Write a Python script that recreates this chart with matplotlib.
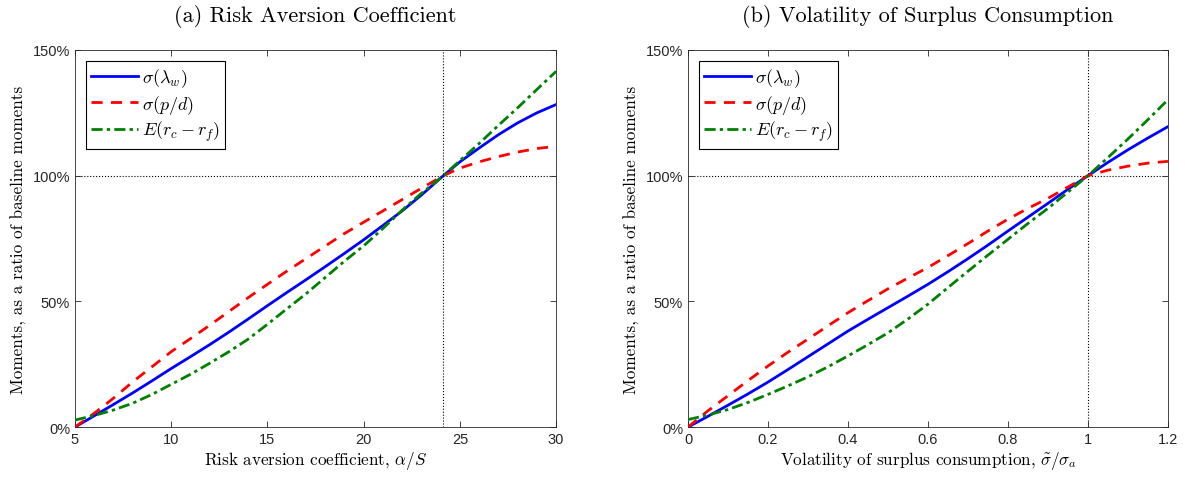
import numpy as np
import matplotlib
matplotlib.use('Agg')
import matplotlib.pyplot as plt
from matplotlib.ticker import FuncFormatter

plt.rcParams['mathtext.fontset'] = 'cm'
plt.rcParams['axes.formatter.use_mathtext'] = True

# panel (a): risk aversion coefficient (values in % of baseline)
ra_x = [5, 6, 7, 8, 9, 10, 11, 12, 13, 14, 15, 16, 17, 18, 19, 20, 21, 22, 23,
        24.14, 25, 26, 27, 28, 29, 30]
ra_lam = [0, 4.5, 9.0, 13.6, 18.4, 23.3, 28.0, 32.8, 37.8, 43.0, 48.3, 53.5, 58.6,
          63.8, 69.1, 74.5, 80.2, 86.0, 92.3, 100, 105.5, 111.0, 116.3, 121.0, 125.0, 128.3]
ra_pd = [0, 5.5, 11.5, 18.0, 24.0, 30.0, 35.2, 40.5, 46.0, 51.5, 56.8, 62.0, 67.0,
         72.0, 77.0, 81.5, 86.0, 90.5, 95.0, 100, 103.0, 105.5, 107.6, 109.4, 110.8, 111.7]
ra_ex = [2.8, 4.6, 6.8, 9.5, 13.0, 17.0, 21.0, 25.4, 30.0, 35.0, 40.9, 47.0, 53.0,
         59.5, 66.0, 72.1, 79.0, 86.3, 93.0, 100, 106.0, 112.8, 120.0, 127.0, 134.3, 141.5]
ra_base = 24.14

# panel (b): volatility of surplus consumption
vol_x = [0, 0.05, 0.1, 0.15, 0.2, 0.25, 0.3, 0.35, 0.4, 0.45, 0.5, 0.55, 0.6,
         0.65, 0.7, 0.75, 0.8, 0.85, 0.9, 0.95, 1.0, 1.05, 1.1, 1.15, 1.2]
vol_lam = [0, 4.3, 8.7, 13.2, 17.9, 22.9, 28.0, 33.1, 38.2, 42.9, 47.5, 52.1, 56.8,
           61.8, 67.0, 72.4, 78.0, 83.5, 89.0, 94.6, 100, 105.3, 110.3, 115.0, 119.5]
vol_pd = [0, 6.5, 12.5, 18.5, 24.3, 29.8, 35.0, 40.3, 45.5, 50.3, 55.0, 59.3, 63.5,
          68.2, 73.0, 78.0, 82.7, 87.0, 91.0, 95.5, 100, 102.2, 103.8, 105.0, 105.7]
vol_ex = [3.0, 4.8, 7.0, 9.8, 13.0, 16.4, 20.0, 24.0, 28.3, 32.8, 37.5, 43.0, 48.9,
          55.5, 62.0, 68.4, 74.7, 81.0, 87.0, 93.5, 100, 107.2, 114.6, 122.3, 130.2]
vol_base = 1.0

labels = [r'$\sigma(\lambda_w)$', r'$\sigma(p/d)$', r'$E(r_c-r_f)$']
titles = ['(a) Risk Aversion Coefficient', '(b) Volatility of Surplus Consumption']
xlabels = [r'Risk aversion coefficient, $\alpha/S$',
           r'Volatility of surplus consumption, $\tilde{\sigma}/\sigma_a$']

fig = plt.figure(figsize=(11.85, 4.81), dpi=100)
ax1 = fig.add_axes([0.0633, 0.110, 0.406, 0.784])
ax2 = fig.add_axes([0.5806, 0.110, 0.405, 0.784])

panels = [
    (ax1, ra_x, ra_lam, ra_pd, ra_ex, ra_base, (5, 30), [5, 10, 15, 20, 25, 30]),
    (ax2, vol_x, vol_lam, vol_pd, vol_ex, vol_base, (0, 1.2), [0, 0.2, 0.4, 0.6, 0.8, 1.0, 1.2]),
]

for i, (ax, x, lam, pd_, ex, base, xlim, xticks) in enumerate(panels):
    ax.axhline(100, color='k', ls=':', lw=0.8, zorder=1)
    ax.axvline(base, color='k', ls=':', lw=0.8, zorder=1)
    ax.plot(x, lam, color='b', lw=2, ls='-', label=labels[0], zorder=3)
    ax.plot(x, pd_, color='r', lw=2, ls=(0, (4, 3)), label=labels[1], zorder=3)
    ax.plot(x, ex, color='g', lw=2, ls=(0, (4, 1.5, 1.2, 1.5)), label=labels[2], zorder=3)

    ax.set_xlim(*xlim)
    ax.set_ylim(0, 150)
    ax.set_xticks(xticks)
    ax.set_yticks([0, 50, 100, 150])
    ax.xaxis.set_major_formatter(FuncFormatter(lambda v, p: '%g' % v))
    ax.yaxis.set_major_formatter(FuncFormatter(lambda v, p: '%d%%' % v))
    ax.tick_params(direction='in', top=True, right=True, length=4, width=0.6,
                   labelsize=10.5, colors='#262626')
    for lab in ax.get_xticklabels() + ax.get_yticklabels():
        lab.set_fontfamily('Liberation Sans')
    for s in ax.spines.values():
        s.set_linewidth(0.6)
        s.set_color('#262626')

    ax.set_title(titles[i], fontfamily='cmr10', fontsize=16, pad=21)
    ax.set_xlabel(xlabels[i], fontfamily='cmr10', fontsize=12.3, labelpad=2)
    ax.set_ylabel('Moments, as a ratio of baseline moments', fontfamily='cmr10',
                  fontsize=12.3, labelpad=4)

    leg = ax.legend(loc='upper left', fontsize=13, handlelength=2.6, handletextpad=0.2,
                    borderpad=0.3, labelspacing=0.2, fancybox=False, framealpha=1,
                    borderaxespad=0.6)
    leg.get_frame().set_edgecolor('k')
    leg.get_frame().set_linewidth(0.8)

fig.savefig('out.png', dpi=100)
